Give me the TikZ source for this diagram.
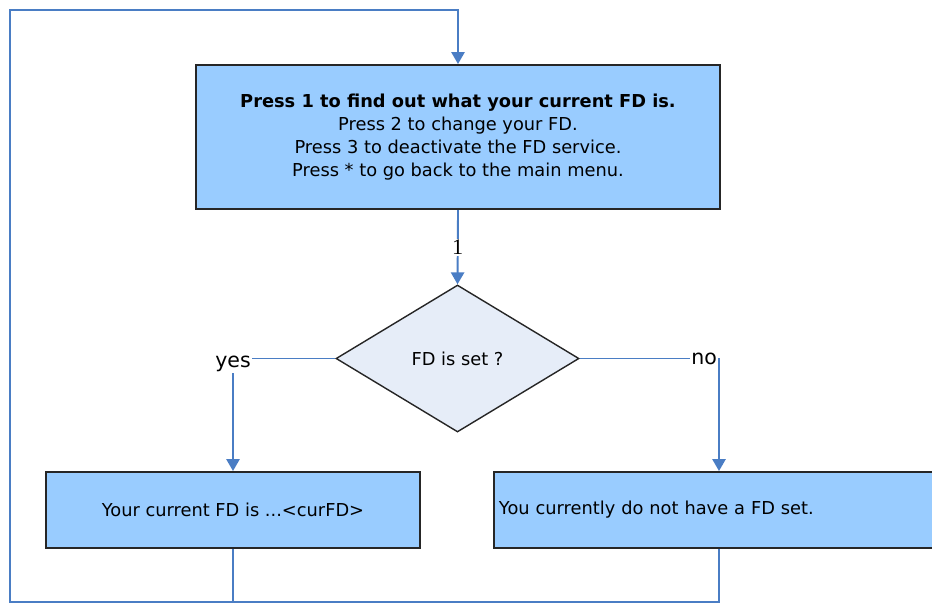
\documentclass[tikz,border=0pt]{standalone}
\usepackage{fontspec}
\setmainfont{DejaVu Sans}
\newfontfamily\numfont{Liberation Serif}
\usetikzlibrary{arrows.meta,shapes.geometric}
\definecolor{boxblue}{HTML}{99CCFF}
\definecolor{askblue}{HTML}{E6EDF8}
\definecolor{flowblue}{HTML}{4A7DC4}

\begin{document}
\begin{tikzpicture}[
    x=0.03cm, y=-0.03cm,
    font=\fontsize{15.2}{19.4}\selectfont,
    menubox/.style={draw=black!85, line width=1.7pt, fill=boxblue, align=center, inner sep=0pt},
    ask/.style={diamond, draw=black!85, line width=1.2pt, fill=askblue, inner sep=0pt,
                minimum width=7.29cm, minimum height=4.41cm},
    wire/.style={draw=flowblue, line width=1.6pt},
    flow/.style={wire, -{Triangle[length=0.36cm, width=0.4cm]}},
    tag/.style={fill=white, inner sep=1pt, font=\fontsize{17.5}{17.5}\selectfont}
  ]
  \useasboundingbox (0,0) rectangle (932,605);
  \clip (0,0) rectangle (932,605);
  % menu, question and the two answers
  \node[menubox, minimum width=15.72cm, minimum height=4.32cm] (menu) at (458,137)
    {\textbf{Press 1 to find out what your current FD is.}\\Press 2 to change your FD.\\
     Press 3 to deactivate the FD service.\\Press * to go back to the main menu.};
  \node[ask] (check) at (457.5,358.5) {FD is set ?};
  \node[menubox, minimum width=11.22cm, minimum height=2.28cm] (curfd) at (233,510)
    {Your current FD is ...<curFD>};
  \node[menubox, minimum width=13.5cm, minimum height=2.28cm, text width=13.2cm, align=left]
    (nofd) at (719,510) {You currently do not have a FD set.};
  % connectors
  \draw[flow] (menu.south) -- node[tag, font=\numfont\fontsize{19}{19}\selectfont] {1} (check.north);
  \draw[flow] (check.west) -| node[pos=0.5, tag, yshift=-5pt] {yes} (curfd.north);
  \draw[flow] (check.east) -| node[pos=0.5, tag, anchor=east] {no} (nofd.north);
  % back to the menu
  \coordinate (loopL) at (10,602);
  \coordinate (loopT) at (10,10);
  \draw[wire] (curfd.south) -- (curfd.south |- loopL);
  \draw[flow] (nofd.south) |- (loopL) -- (loopT) -| (menu.north);
\end{tikzpicture}
\end{document}
